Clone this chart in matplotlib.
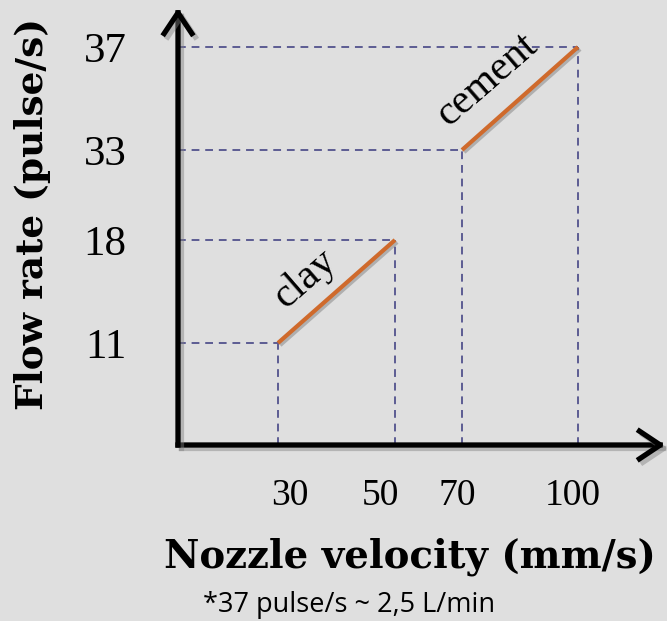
import numpy as np
import matplotlib
matplotlib.use("Agg")
import matplotlib.pyplot as plt
import matplotlib.patheffects as pe
from matplotlib.transforms import ScaledTranslation

# ── data ──────────────────────────────────────────────────────────────────────
velocity_ticks = [30, 50, 70, 100]      # mm/s
flow_ticks = [11, 18, 33, 37]           # pulse/s
clay_velocity = [30, 50]
clay_flow = [11, 18]
cement_velocity = [70, 100]
cement_flow = [33, 37]

# ── schematic (non-linear) axes: value knots -> pixel offset from origin ─────
X_KNOTS = [0, 30, 50, 70, 100, 120]
X_PIX = [0, 100, 217, 284, 400, 487]
Y_KNOTS = [0, 11, 18, 33, 37, 40]
Y_PIX = [0, 102, 205, 295, 398, 437]
X_LABEL_NUDGE = [12, -15, -5, -5]       # px, tick label shifts as in the sketch

BG = "#dfdfdf"
ORANGE = "#cf6a2c"
DASH = "#5c5c92"
W, H = 667, 621

plt.rcParams["font.family"] = ["Liberation Serif", "DejaVu Serif"]

fig = plt.figure(figsize=(W / 100, H / 100), dpi=100, facecolor=BG)
ax = fig.add_axes([178 / W, (H - 445) / H, 487 / W, 437 / H])
ax.set_facecolor("none")

ax.set_xscale("function", functions=(lambda v: np.interp(v, X_KNOTS, X_PIX),
                                     lambda p: np.interp(p, X_PIX, X_KNOTS)))
ax.set_yscale("function", functions=(lambda v: np.interp(v, Y_KNOTS, Y_PIX),
                                     lambda p: np.interp(p, Y_PIX, Y_KNOTS)))
ax.set_xlim(X_KNOTS[0], X_KNOTS[-1])
ax.set_ylim(Y_KNOTS[0], Y_KNOTS[-1])

# dashed guides to each end point
for v, f in zip(velocity_ticks, flow_ticks):
    ax.plot([0, v], [f, f], color=DASH, lw=1.4, ls=(0, (4, 3)))
    ax.plot([v, v], [0, f], color=DASH, lw=1.4, ls=(0, (4, 3)))

shadow = [pe.SimpleLineShadow(offset=(1.5, -1.5), shadow_color="gray", alpha=0.5), pe.Normal()]
ax.plot(clay_velocity, clay_flow, color=ORANGE, lw=3, solid_capstyle="butt", path_effects=shadow)
ax.plot(cement_velocity, cement_flow, color=ORANGE, lw=3, solid_capstyle="butt", path_effects=shadow)

ax.annotate("clay", xy=(np.mean(clay_velocity), np.mean(clay_flow)), xytext=(-32, 13),
            textcoords="offset pixels", rotation=41, ha="center", va="center", fontsize=30)
ax.annotate("cement", xy=(np.mean(cement_velocity), np.mean(cement_flow)), xytext=(-33, 19),
            textcoords="offset pixels", rotation=41, ha="center", va="center", fontsize=30)

# axes drawn as arrows
for end in [(1, 0), (0, 1)]:
    arr = ax.annotate("", xy=end, xytext=(0, 0), xycoords="axes fraction",
                      arrowprops=dict(arrowstyle="->,head_length=0.75,head_width=0.5",
                                      lw=3.8, color="black", shrinkA=0, shrinkB=0,
                                      mutation_scale=20, capstyle="projecting"))
    arr.arrow_patch.set_path_effects(
        [pe.SimpleLineShadow(offset=(2.5, -2.5), shadow_color="gray", alpha=0.45), pe.Normal()])

for s in ax.spines.values():
    s.set_visible(False)
ax.set_xticks(velocity_ticks, [str(v) for v in velocity_ticks])
ax.set_yticks(flow_ticks, [str(f) for f in flow_ticks])
ax.minorticks_off()
ax.tick_params(length=0)
ax.tick_params(axis="y", pad=37, labelsize=31)
ax.tick_params(axis="x", pad=24, labelsize=27)
for lbl, dx in zip(ax.get_xticklabels(), X_LABEL_NUDGE):
    lbl.set_transform(lbl.get_transform() + ScaledTranslation(dx / 100, 0, fig.dpi_scale_trans))

fig.text(33 / W, 1 - 214 / H, "Flow rate (pulse/s)", rotation=90, ha="center", va="center",
         fontsize=27, fontweight="bold", family="DejaVu Serif")
fig.text(410 / W, 1 - 557 / H, "Nozzle velocity (mm/s)", ha="center", va="center",
         fontsize=27.8, fontweight="bold", family="DejaVu Serif")
fig.text(349 / W, 1 - 605 / H, "*37 pulse/s ~ 2,5 L/min", ha="center", va="center",
         fontsize=19.5, family=["Open Sans", "DejaVu Sans"])

fig.savefig("out.png", dpi=100, facecolor=BG)
